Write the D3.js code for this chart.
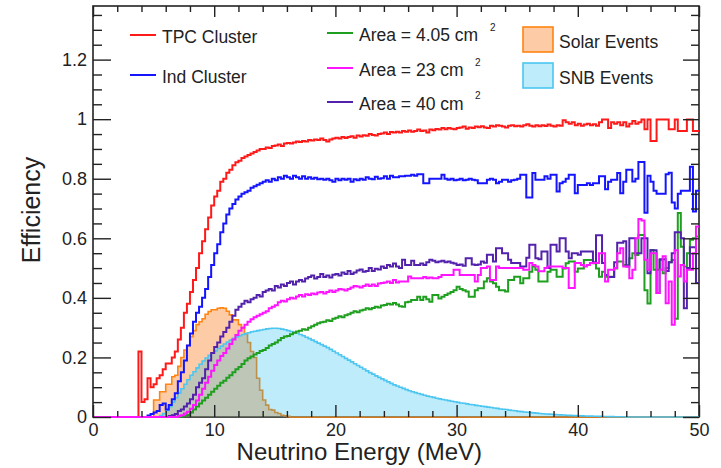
<!DOCTYPE html>
<html><head><meta charset="utf-8">
<script src="https://cdn.jsdelivr.net/npm/d3@7/dist/d3.min.js"></script>
<style>
body{margin:0;background:#fff}
svg{display:block}
text{font-family:"Liberation Sans",Arial,Helvetica,sans-serif;fill:#222}
</style>
</head><body>
<svg id="c" width="721" height="468"></svg>
<script>
// Histogram bins: 0.25 MeV wide, 0 .. 50 MeV (200 bins); one row = 1 MeV
const binWidth = 0.25;
const xDomain = [0, 50];
const yDomain = [0, 1.38];
const xMajorTicks = [0, 10, 20, 30, 40, 50];
const yMajorTicks = [0, 0.2, 0.4, 0.6, 0.8, 1, 1.2];

const tpcCluster = [
0,0,0,0, 0,0,0,0, 0,0,0,0, 0,0,0,0.22,
0.05,0.06,0.13,0.10,
0.11,0.13,0.14,0.16,
0.18,0.18,0.20,0.22,
0.26,0.30,0.35,0.38,
0.42,0.46,0.50,0.55,
0.59,0.63,0.67,0.71,
0.74,0.76,0.79,0.80,
0.82,0.83,0.845,0.855,
0.86,0.87,0.875,0.88,
0.885,0.89,0.895,0.90,
0.90,0.905,0.903,0.91,
0.912,0.915,0.91,0.918,
0.92,0.918,0.922,0.925,
0.923,0.927,0.925,0.93,
0.928,0.932,0.93,0.935,
0.93,0.925,0.932,0.935,
0.938,0.935,0.94,0.937,
0.94,0.943,0.938,0.945,
0.942,0.946,0.944,0.95,
0.947,0.945,0.95,0.952,
0.955,0.95,0.957,0.955,
0.958,0.955,0.96,0.958,
0.962,0.958,0.96,0.965,
0.96,0.962,0.955,0.965,
0.963,0.967,0.965,0.97,
0.966,0.97,0.968,0.966,
0.97,0.972,0.975,0.968,
0.972,0.97,0.975,0.973,
0.976,0.972,0.97,0.978,
0.975,0.98,0.978,0.975,
0.972,0.978,0.98,0.976,
0.978,0.975,0.98,0.983,
0.978,0.975,0.98,0.976,
0.98,0.977,0.982,0.978,
0.975,0.98,0.978,0.996,
0.99,0.985,0.99,0.98,
0.985,0.978,0.982,0.985,
0.98,0.983,0.978,0.99,
0.999,0.999,0.97,0.99,
0.985,0.99,0.98,0.99,
0.975,0.985,0.994,0.985,
0.99,0.999,0.966,0.999,
0.927,0.927,0.999,0.999,
0.999,0.999,0.966,0.966,
0.999,0.96,0.96,0.96,
0.999,0.999,0.96,0.96
];

const indCluster = [
0,0,0,0, 0,0,0,0, 0,0,0,0, 0,0,0,0,
0,0,0.005,0.01,
0.015,0.02,0.04,0.045,
0.025,0.04,0.06,0.08,
0.12,0.15,0.19,0.24,
0.28,0.32,0.35,0.37,
0.40,0.43,0.47,0.51,
0.55,0.58,0.62,0.65,
0.68,0.70,0.715,0.73,
0.74,0.75,0.755,0.76,
0.77,0.775,0.78,0.785,
0.79,0.795,0.79,0.80,
0.795,0.805,0.80,0.81,
0.805,0.80,0.81,0.805,
0.80,0.808,0.80,0.805,
0.80,0.803,0.798,0.80,
0.797,0.80,0.795,0.79,
0.80,0.795,0.80,0.797,
0.80,0.79,0.798,0.795,
0.80,0.797,0.805,0.80,
0.798,0.807,0.80,0.802,
0.808,0.80,0.81,0.805,
0.805,0.808,0.808,0.81,
0.81,0.813,0.81,0.815,
0.815,0.785,0.785,0.80,
0.80,0.80,0.80,0.813,
0.80,0.797,0.80,0.795,
0.797,0.80,0.795,0.797,
0.80,0.797,0.795,0.785,
0.785,0.785,0.797,0.80,
0.797,0.785,0.79,0.797,
0.797,0.79,0.795,0.797,
0.80,0.813,0.813,0.737,
0.737,0.819,0.797,0.797,
0.797,0.808,0.80,0.813,
0.813,0.757,0.785,0.79,
0.80,0.813,0.813,0.751,
0.779,0.779,0.779,0.785,
0.779,0.785,0.785,0.808,
0.808,0.765,0.79,0.797,
0.797,0.819,0.751,0.79,
0.83,0.83,0.791,0.80,
0.856,0.856,0.686,0.81,
0.79,0.76,0.75,0.75,
0.75,0.815,0.82,0.72,
0.70,0.75,0.76,0.76,
0.76,0.84,0.69,0.76
];

const area405 = [
0,0,0,0, 0,0,0,0, 0,0,0,0, 0,0,0,0, 0,0,0,0, 0,0,0,0, 0,0,0,0,
0,0.002,0.004,0.007,
0.015,0.025,0.035,0.045,
0.055,0.065,0.075,0.085,
0.095,0.105,0.115,0.122,
0.132,0.14,0.15,0.16,
0.168,0.178,0.19,0.197,
0.203,0.21,0.215,0.222,
0.225,0.232,0.24,0.245,
0.25,0.258,0.265,0.27,
0.272,0.278,0.283,0.287,
0.29,0.295,0.293,0.30,
0.305,0.31,0.315,0.318,
0.32,0.325,0.322,0.33,
0.333,0.338,0.335,0.342,
0.345,0.35,0.355,0.352,
0.358,0.36,0.365,0.362,
0.366,0.37,0.368,0.374,
0.376,0.38,0.378,0.383,
0.378,0.372,0.37,0.385,
0.387,0.393,0.393,0.404,
0.393,0.404,0.395,0.387,
0.41,0.41,0.398,0.404,
0.41,0.415,0.42,0.426,
0.437,0.43,0.426,0.421,
0.404,0.404,0.426,0.432,
0.432,0.455,0.466,0.455,
0.449,0.437,0.426,0.426,
0.421,0.46,0.46,0.471,
0.471,0.449,0.466,0.466,
0.488,0.505,0.494,0.455,
0.455,0.455,0.488,0.494,
0.494,0.471,0.471,0.499,
0.516,0.522,0.522,0.488,
0.499,0.499,0.527,0.527,
0.527,0.516,0.499,0.471,
0.488,0.471,0.471,0.471,
0.499,0.522,0.522,0.51,
0.51,0.533,0.55,0.544,
0.611,0.611,0.426,0.381,
0.561,0.494,0.494,0.527,
0.483,0.50,0.52,0.527,
0.33,0.685,0.572,0.505,
0.55,0.595,0.60,0.606
];

const area23 = [
0,0,0,0, 0,0,0,0, 0,0,0,0, 0,0,0,0, 0,0,0,0, 0,0,0,0, 0,0,0,0,
0.003,0.006,0.012,0.018,
0.028,0.04,0.055,0.075,
0.095,0.115,0.135,0.155,
0.175,0.19,0.205,0.215,
0.23,0.245,0.26,0.275,
0.29,0.30,0.31,0.32,
0.328,0.335,0.34,0.345,
0.35,0.355,0.365,0.37,
0.375,0.385,0.39,0.388,
0.395,0.40,0.398,0.405,
0.41,0.405,0.412,0.41,
0.415,0.412,0.418,0.42,
0.415,0.42,0.425,0.42,
0.425,0.43,0.428,0.425,
0.43,0.435,0.44,0.438,
0.435,0.44,0.445,0.44,
0.445,0.44,0.448,0.45,
0.452,0.455,0.45,0.46,
0.452,0.455,0.455,0.455,
0.472,0.466,0.466,0.466,
0.466,0.47,0.466,0.468,
0.466,0.466,0.47,0.477,
0.477,0.477,0.477,0.494,
0.494,0.477,0.477,0.477,
0.477,0.477,0.455,0.477,
0.50,0.50,0.505,0.46,
0.46,0.505,0.50,0.50,
0.50,0.50,0.50,0.50,
0.50,0.50,0.494,0.494,
0.517,0.51,0.505,0.489,
0.489,0.50,0.505,0.505,
0.505,0.505,0.505,0.50,
0.50,0.433,0.433,0.517,
0.517,0.51,0.505,0.51,
0.517,0.517,0.517,0.55,
0.55,0.455,0.494,0.494,
0.50,0.55,0.567,0.505,
0.505,0.466,0.494,0.60,
0.665,0.66,0.528,0.494,
0.55,0.55,0.416,0.494,
0.54,0.382,0.455,0.31,
0.56,0.472,0.51,0.455,
0.494,0.494,0.55,0.64
];

const area40 = [
0,0,0,0, 0,0,0,0, 0,0,0,0, 0,0,0,0, 0,0,0,0, 0,0,0,0,
0,0.003,0.006,0.01,
0.02,0.025,0.035,0.045,
0.06,0.075,0.10,0.115,
0.13,0.16,0.19,0.215,
0.235,0.25,0.27,0.285,
0.30,0.32,0.34,0.36,
0.37,0.38,0.39,0.385,
0.395,0.40,0.41,0.405,
0.42,0.425,0.43,0.425,
0.44,0.435,0.445,0.44,
0.45,0.455,0.445,0.455,
0.46,0.455,0.465,0.47,
0.475,0.465,0.47,0.48,
0.47,0.475,0.468,0.478,
0.48,0.475,0.485,0.48,
0.49,0.48,0.485,0.492,
0.495,0.488,0.49,0.50,
0.49,0.498,0.495,0.505,
0.50,0.51,0.505,0.515,
0.505,0.50,0.528,0.51,
0.51,0.525,0.51,0.51,
0.515,0.51,0.52,0.528,
0.525,0.52,0.522,0.525,
0.52,0.522,0.518,0.515,
0.51,0.512,0.508,0.533,
0.533,0.512,0.51,0.512,
0.522,0.518,0.545,0.545,
0.522,0.567,0.567,0.55,
0.55,0.528,0.517,0.517,
0.517,0.505,0.505,0.535,
0.578,0.578,0.533,0.53,
0.556,0.556,0.50,0.578,
0.578,0.556,0.60,0.60,
0.556,0.533,0.55,0.55,
0.545,0.556,0.556,0.556,
0.556,0.52,0.61,0.61,
0.517,0.477,0.47,0.47,
0.52,0.585,0.585,0.59,
0.505,0.60,0.60,0.55,
0.55,0.60,0.60,0.483,
0.56,0.56,0.416,0.53,
0.53,0.49,0.52,0.55,
0.62,0.62,0.60,0.365,
0.50,0.57,0.57,0.45
];

const solarEvents = [
0,0,0,0, 0,0,0,0, 0,0,0,0, 0,0,0,0, 0,0,0,0,
0.057,0.057,0.085,0.085,
0.11,0.11,0.135,0.14,
0.17,0.20,0.225,0.24,
0.27,0.29,0.31,0.32,
0.33,0.345,0.354,0.36,
0.36,0.365,0.367,0.365,
0.355,0.343,0.326,0.326,
0.31,0.30,0.28,0.25,
0.22,0.20,0.13,0.09,
0.057,0.04,0.025,0.023,
0.015,0.012,0.006,0.004,
0.002,0,0,0,
0,0,0,0, 0,0,0,0, 0,0,0,0, 0,0,0,0, 0,0,0,0, 0,0,0,0, 0,0,0,0,
0,0,0,0, 0,0,0,0, 0,0,0,0, 0,0,0,0, 0,0,0,0, 0,0,0,0, 0,0,0,0,
0,0,0,0, 0,0,0,0, 0,0,0,0, 0,0,0,0, 0,0,0,0, 0,0,0,0, 0,0,0,0,
0,0,0,0, 0,0,0,0, 0,0,0,0, 0,0,0,0, 0,0,0,0, 0,0,0,0, 0,0,0,0,
0,0,0,0, 0,0,0,0, 0,0,0,0, 0,0,0,0, 0,0,0,0
];

const snbEvents = [
0,0,0,0, 0,0,0,0, 0,0,0,0, 0,0,0,0, 0,0,0,0,
0,0,0.005,0.012,
0.022,0.035,0.05,0.065,
0.08,0.095,0.11,0.125,
0.14,0.152,0.165,0.177,
0.188,0.198,0.207,0.215,
0.222,0.23,0.238,0.245,
0.252,0.258,0.264,0.269,
0.273,0.277,0.28,0.283,
0.286,0.288,0.29,0.292,
0.294,0.296,0.297,0.298,
0.298,0.297,0.295,0.293,
0.29,0.287,0.284,0.281,
0.277,0.273,0.268,0.263,
0.258,0.253,0.248,0.243,
0.238,0.233,0.227,0.221,
0.215,0.209,0.203,0.197,
0.191,0.185,0.179,0.173,
0.167,0.161,0.155,0.149,
0.144,0.138,0.133,0.128,
0.123,0.118,0.113,0.108,
0.104,0.10,0.096,0.092,
0.088,0.085,0.082,0.079,
0.076,0.073,0.07,0.068,
0.066,0.063,0.061,0.059,
0.057,0.055,0.053,0.051,
0.049,0.047,0.046,0.044,
0.042,0.041,0.039,0.038,
0.036,0.035,0.033,0.032,
0.03,0.029,0.027,0.026,
0.025,0.023,0.022,0.021,
0.019,0.018,0.017,0.016,
0.015,0.014,0.013,0.012,
0.011,0.01,0.0095,0.009,
0.008,0.0075,0.007,0.0065,
0.006,0.0055,0.005,0.0045,
0.004,0.0037,0.0034,0.003,
0.0028,0.0025,0.0023,0.002,
0.0018,0.0016,0.0014,0.0012,
0.001,0.0009,0.0008,0.0007,
0,0,0,0, 0,0,0,0, 0,0,0,0, 0,0,0,0, 0,0,0,0, 0,0,0,0
];

const seriesNames = ["TPC Cluster", "Ind Cluster", "Area = 4.05 cm", "Area = 23 cm", "Area = 40 cm"];
const fillNames = ["Solar Events", "SNB Events"];

// ---------------------------------------------------------------
const svg = d3.select("#c");
const frame = {l: 93, r: 699, t: 6, b: 417};
const x = d3.scaleLinear().domain(xDomain).range([frame.l, frame.r]);
const y = d3.scaleLinear().domain(yDomain).range([frame.b, frame.t]);

function toPoints(vals) {
  const pts = vals.map((v, i) => [i * binWidth, v]);
  pts.push([vals.length * binWidth, vals[vals.length - 1]]);
  return pts;
}
const stepLine = d3.line().x(d => x(d[0])).y(d => y(d[1])).curve(d3.curveStepAfter);
const stepArea = d3.area().x(d => x(d[0])).y0(y(0)).y1(d => y(d[1])).curve(d3.curveStepAfter);

// frame
svg.append("rect").attr("x", frame.l).attr("y", frame.t)
  .attr("width", frame.r - frame.l).attr("height", frame.b - frame.t)
  .attr("fill", "none").attr("stroke", "#222").attr("stroke-width", 1.6);

// filled histograms
const clip = svg.append("defs").append("clipPath").attr("id", "clipF")
  .append("rect").attr("x", frame.l).attr("y", frame.t)
  .attr("width", frame.r - frame.l).attr("height", frame.b - frame.t + 2);
const plot = svg.append("g").attr("clip-path", "url(#clipF)");

const solarFill = "rgba(250,110,0,0.35)", solarStroke = "#ff8412";
const snbFill = "rgba(0,180,235,0.25)", snbStroke = "#4cc6f0";

plot.append("path").datum(toPoints(solarEvents)).attr("d", stepArea).attr("fill", solarFill);
plot.append("path").datum(toPoints(solarEvents)).attr("d", stepLine)
  .attr("fill", "none").attr("stroke", solarStroke).attr("stroke-width", 1.6);
plot.append("path").datum(toPoints(snbEvents)).attr("d", stepArea).attr("fill", snbFill);
plot.append("path").datum(toPoints(snbEvents)).attr("d", stepLine)
  .attr("fill", "none").attr("stroke", snbStroke).attr("stroke-width", 1.6);

const lineSeries = [
  {v: tpcCluster, c: "#ff1a1a"},
  {v: indCluster, c: "#1414ff"},
  {v: area405, c: "#1f9f1f"},
  {v: area40, c: "#5322ad"},
  {v: area23, c: "#ff14ff"}
];
lineSeries.forEach(s => {
  plot.append("path").datum(toPoints(s.v)).attr("d", stepLine)
    .attr("fill", "none").attr("stroke", s.c).attr("stroke-width", 2);
});

// axes
const fmtY = d => String(+(+d).toFixed(1));
const yMinor = d3.range(0, 1.3751, 0.05).map(v => +v.toFixed(2)).filter(v => !yMajorTicks.some(t => Math.abs(t - v) < 1e-6));
const xMinor = d3.range(0, 50.001, 2).filter(v => v % 10 !== 0);

function styleAxis(g) {
  g.select(".domain").remove();
  g.selectAll("line").attr("stroke", "#222").attr("stroke-width", 1.4);
  g.selectAll("text").attr("fill", "#222").style("font-size", "18px")
    .style("font-family", '"Liberation Sans", Arial, sans-serif');
}
svg.append("g").attr("transform", `translate(${frame.l},0)`)
  .call(d3.axisLeft(y).tickValues(yMajorTicks).tickSizeInner(-18).tickSizeOuter(0).tickPadding(6).tickFormat(fmtY))
  .call(styleAxis);
svg.append("g").attr("transform", `translate(${frame.l},0)`)
  .call(d3.axisLeft(y).tickValues(yMinor).tickSizeInner(-9).tickSizeOuter(0).tickFormat(""))
  .call(styleAxis);
svg.append("g").attr("transform", `translate(${frame.r},0)`)
  .call(d3.axisRight(y).tickValues(yMajorTicks).tickSizeInner(-16).tickSizeOuter(0).tickFormat(""))
  .call(styleAxis);
svg.append("g").attr("transform", `translate(${frame.r},0)`)
  .call(d3.axisRight(y).tickValues(yMinor).tickSizeInner(-8).tickSizeOuter(0).tickFormat(""))
  .call(styleAxis);
svg.append("g").attr("transform", `translate(0,${frame.b})`)
  .call(d3.axisBottom(x).tickValues(xMajorTicks).tickSizeInner(-12).tickSizeOuter(0).tickPadding(6).tickFormat(d3.format("d")))
  .call(styleAxis);
svg.append("g").attr("transform", `translate(0,${frame.b})`)
  .call(d3.axisBottom(x).tickValues(xMinor).tickSizeInner(-6).tickSizeOuter(0).tickFormat(""))
  .call(styleAxis);
svg.append("g").attr("transform", `translate(0,${frame.t})`)
  .call(d3.axisTop(x).tickValues(xMajorTicks).tickSizeInner(-11).tickSizeOuter(0).tickFormat(""))
  .call(styleAxis);
svg.append("g").attr("transform", `translate(0,${frame.t})`)
  .call(d3.axisTop(x).tickValues(xMinor).tickSizeInner(-6).tickSizeOuter(0).tickFormat(""))
  .call(styleAxis);

// axis titles
svg.append("text").attr("x", 482).attr("y", 460).attr("text-anchor", "end")
  .style("font-size", "24px").text("Neutrino Energy (MeV)");
svg.append("text").attr("transform", "translate(40,210) rotate(-90)").attr("text-anchor", "middle")
  .style("font-size", "25px").text("Efficiency");

// legends
const legFont = "17.5px";
const lineLegend = [
  {name: seriesNames[0], c: "#ff1a1a", x: 130, y: 35},
  {name: seriesNames[1], c: "#1414ff", x: 130, y: 75},
  {name: seriesNames[2], c: "#1f9f1f", x: 327, y: 33, sup: [490, 31]},
  {name: seriesNames[3], c: "#ff14ff", x: 327, y: 68, sup: [475, 66]},
  {name: seriesNames[4], c: "#5322ad", x: 327, y: 102, sup: [475, 99]}
];
lineLegend.forEach(d => {
  svg.append("line").attr("x1", d.x).attr("x2", d.x + 26).attr("y1", d.y).attr("y2", d.y)
    .attr("stroke", d.c).attr("stroke-width", 2);
  svg.append("text").attr("x", d.x + 32).attr("y", d.y + 8).style("font-size", legFont).text(d.name);
  if (d.sup) svg.append("text").attr("x", d.sup[0]).attr("y", d.sup[1]).style("font-size", "10px").text("2");
});
const boxLegend = [
  {name: fillNames[0], f: solarFill, s: solarStroke, y: 27},
  {name: fillNames[1], f: snbFill, s: snbStroke, y: 63}
];
boxLegend.forEach(d => {
  svg.append("rect").attr("x", 523).attr("y", d.y).attr("width", 30).attr("height", 25)
    .attr("fill", d.f).attr("stroke", d.s).attr("stroke-width", 1.6);
  svg.append("text").attr("x", 559).attr("y", d.y + 21).style("font-size", legFont).text(d.name);
});
</script>
</body></html>
